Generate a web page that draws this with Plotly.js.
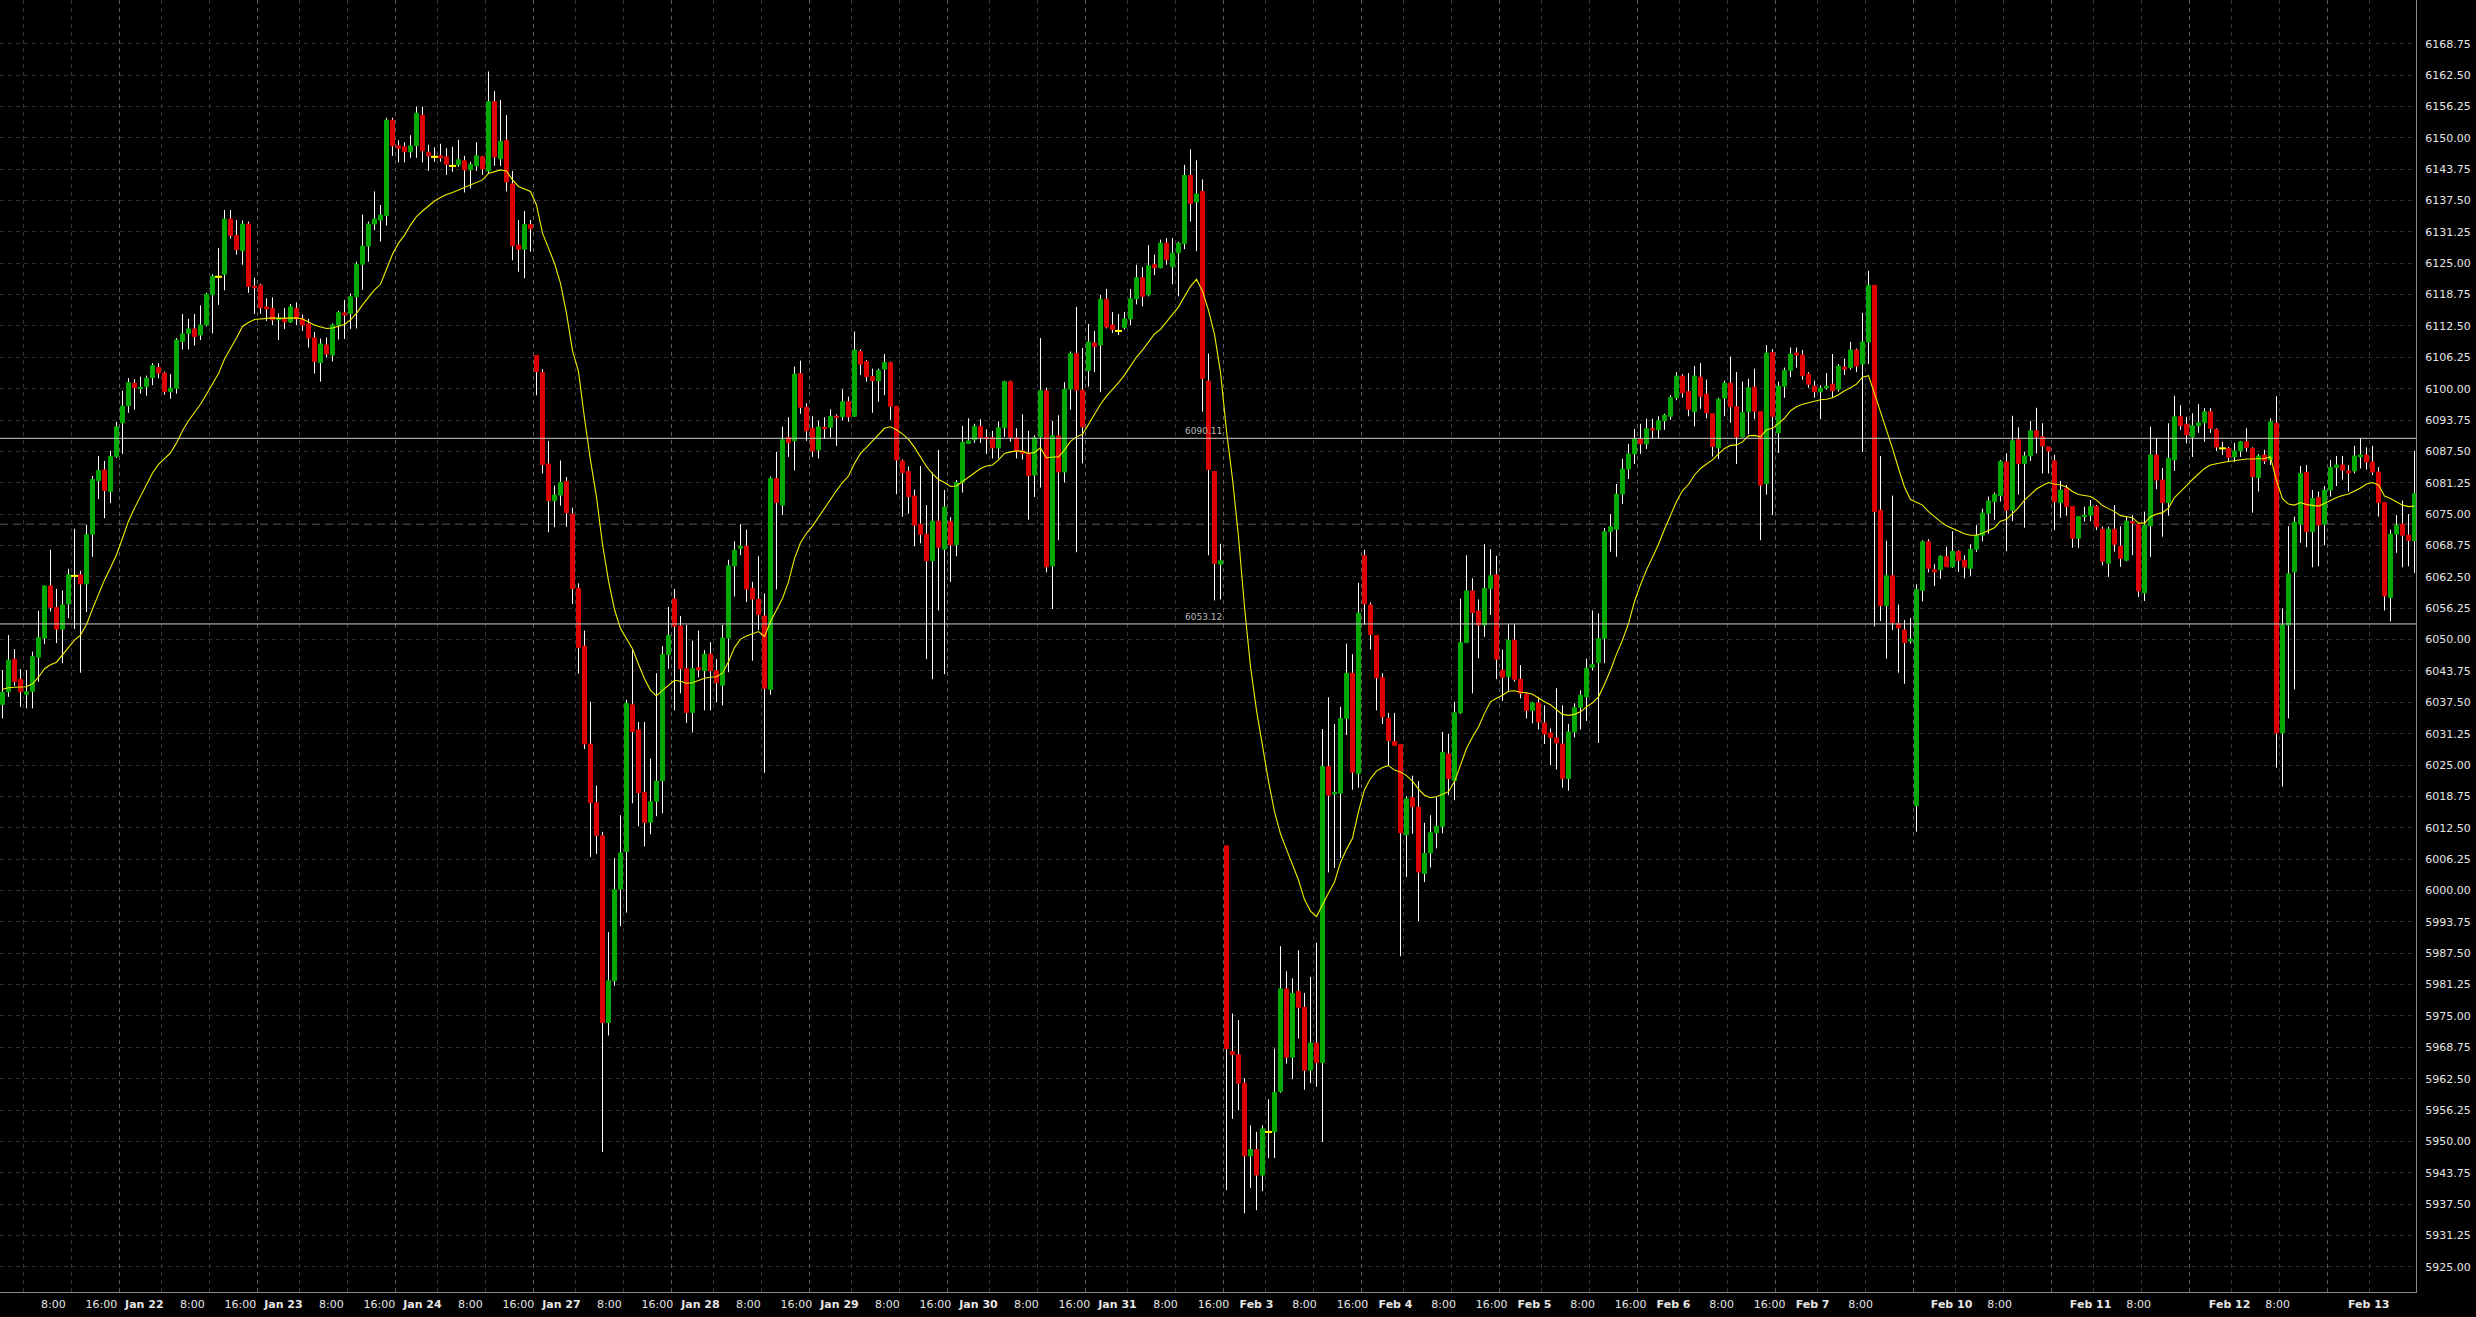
<!DOCTYPE html>
<html>
<head>
<meta charset="utf-8">
<script src="https://cdn.plot.ly/plotly-3.0.1.min.js"></script>
<style>
  html, body { margin: 0; padding: 0; background: #000; }
  #chart { width: 2476px; height: 1317px; }
</style>
</head>
<body>
<div id="chart"></div>
<script>
// ---------------- DATA (hourly candles, index 0 = Jan 21 08:00) ----------------
const open = [
6037.1,6039.6,6046.1,6042.1,6039.1,6039.7,6046.5,6050.3,6060.7,6056.4,
6052.1,6057.1,6062.7,6062.9,6061.1,6071.0,6081.7,6083.8,6079.5,6086.5,
6093.2,6096.6,6101.1,6100.0,6100.4,6102.2,6104.2,6103.1,6099.4,6100.1,
6109.4,6111.0,6111.9,6110.7,6112.7,6118.7,6122.3,6122.8,6133.8,6130.5,
6127.5,6132.8,6120.4,6120.6,6116.3,6116.0,6113.7,6113.9,6113.3,6116.0,
6113.9,6112.9,6110.1,6105.2,6108.7,6106.7,6112.7,6115.1,6115.0,6118.3,
6124.8,6128.4,6132.8,6133.6,6134.5,6153.5,6148.4,6148.2,6147.2,6148.4,
6154.5,6147.1,6146.2,6146.4,6146.2,6144.4,6144.6,6145.4,6143.6,6144.4,
6146.2,6143.4,6157.2,6145.8,6149.5,6140.8,6128.6,6127.8,6132.7,6106.6,
6103.2,6085.0,6077.7,6078.8,6081.5,6075.0,6060.2,6048.7,6029.2,6017.5,
6010.9,5973.7,5982.0,6000.3,6007.8,6037.0,6032.0,6019.5,6013.6,6017.8,
6021.9,6047.0,6058.1,6052.7,6044.2,6035.5,6044.4,6043.8,6047.1,6043.8,
6040.9,6050.3,6064.7,6068.2,6068.6,6060.2,6058.0,6054.7,6040.1,6082.1,
6076.8,6090.3,6089.6,6103.0,6096.3,6092.1,6087.8,6092.3,6092.3,6094.5,
6094.4,6097.4,6094.5,6107.4,6105.4,6102.4,6101.6,6103.9,6105.2,6096.5,
6085.6,6083.5,6078.6,6073.0,6071.0,6065.7,6073.6,6068.0,6073.5,6068.9,
6081.3,6089.1,6089.8,6092.5,6090.3,6090.2,6088.2,6092.2,6101.4,6090.2,
6087.6,6087.2,6082.8,6090.4,6099.6,6064.7,6090.6,6083.4,6099.9,6107.0,
6099.7,6103.6,6109.1,6108.7,6117.8,6112.7,6111.5,6112.2,6113.9,6117.9,
6122.1,6118.7,6124.7,6124.1,6129.0,6124.3,6127.1,6128.9,6142.5,6137.2,
6139.3,6101.5,6083.5,6065.0,6008.9,5967.9,5967.3,5961.6,5947.1,5948.4,
5943.3,5951.9,5951.9,5960.0,5980.4,5966.8,5979.9,5976.7,5964.2,5969.6,
5965.7,6024.7,6019.2,6019.4,6034.3,6043.3,6023.3,6066.7,6056.9,6050.8,
6042.4,6034.3,6029.7,6029.1,6011.1,6018.5,6016.6,6003.4,6007.5,6011.5,
6012.8,6027.2,6021.9,6035.4,6049.4,6059.7,6055.7,6052.9,6060.2,6062.9,
6043.9,6042.6,6049.9,6042.1,6039.1,6035.9,6037.4,6033.4,6031.4,6030.4,
6029.2,6022.3,6031.6,6036.5,6038.6,6044.5,6045.4,6050.2,6071.5,6072.0,
6079.0,6084.0,6087.0,6090.0,6089.0,6092.0,6091.8,6093.6,6094.5,6098.2,
6102.5,6099.4,6095.4,6102.3,6098.9,6095.0,6088.2,6098.1,6101.1,6096.4,
6090.4,6095.4,6100.3,6095.4,6081.1,6107.2,6091.2,6100.5,6103.6,6107.1,
6106.7,6102.9,6100.5,6099.4,6100.2,6100.9,6099.9,6104.3,6104.2,6107.7,
6104.9,6109.3,6120.6,6075.8,6056.8,6062.7,6053.2,6051.9,6049.7,6016.9,
6059.8,6069.5,6063.9,6063.9,6066.5,6064.5,6067.6,6065.8,6064.2,6068.0,
6070.8,6075.2,6077.5,6078.7,6085.4,6075.8,6089.8,6085.1,6086.6,6091.6,
6090.4,6088.4,6085.6,6077.3,6080.1,6076.5,6070.2,6074.5,6074.8,6076.5,
6072.0,6065.2,6072.0,6068.6,6065.8,6073.5,6072.9,6059.3,6072.7,6086.8,
6081.8,6077.3,6085.8,6094.4,6092.9,6090.4,6092.6,6093.2,6095.4,6091.9,
6088.1,6088.1,6086.4,6087.6,6089.4,6088.1,6082.3,6086.8,6085.8,6093.1,
6031.4,6052.9,6063.5,6073.0,6083.3,6071.5,6078.3,6073.0,6079.8,6084.3,
6084.8,6083.6,6083.6,6086.4,6086.8,6085.4,6083.4,6077.3,6058.4,6071.0,
6073.0,6070.8,6069.7
];
const high = [
6043.9,6050.9,6048.1,6044.1,6043.9,6047.6,6055.7,6060.7,6067.9,6060.1,
6059.8,6064.1,6072.1,6063.7,6072.9,6082.6,6086.6,6085.6,6087.6,6093.4,
6099.6,6102.1,6101.9,6102.4,6102.6,6105.1,6105.1,6103.4,6102.9,6110.1,
6114.9,6113.9,6114.9,6116.6,6119.1,6122.8,6128.0,6135.6,6135.6,6133.6,
6133.5,6133.3,6122.1,6120.9,6118.0,6118.2,6115.0,6116.1,6116.9,6117.2,
6114.8,6113.9,6111.3,6110.0,6110.2,6113.0,6115.5,6117.7,6119.0,6125.3,
6134.7,6133.3,6139.3,6136.6,6154.0,6154.0,6149.5,6149.1,6150.5,6156.2,
6156.2,6148.6,6148.1,6148.8,6147.9,6148.2,6149.6,6146.4,6145.2,6149.1,
6146.4,6163.2,6159.3,6157.5,6154.5,6143.4,6133.6,6135.4,6133.6,6106.6,
6103.9,6089.6,6080.7,6085.7,6082.4,6076.3,6061.2,6051.8,6037.6,6020.9,
6011.7,5991.7,6006.5,6015.0,6038.0,6047.9,6033.6,6033.6,6026.3,6043.3,
6048.7,6056.5,6060.1,6054.7,6052.9,6049.8,6051.8,6047.9,6049.5,6046.1,
6052.9,6065.9,6069.6,6073.0,6071.9,6061.5,6066.6,6059.2,6082.5,6087.4,
6092.4,6094.3,6104.4,6105.6,6097.1,6094.5,6093.6,6094.3,6095.9,6094.9,
6099.9,6098.4,6111.4,6107.8,6105.7,6104.0,6104.0,6106.9,6105.4,6096.5,
6085.9,6084.5,6079.9,6084.6,6076.8,6083.3,6087.8,6079.8,6074.4,6081.8,
6092.6,6094.1,6093.0,6093.9,6091.9,6091.6,6093.5,6101.6,6101.6,6092.1,
6094.9,6091.6,6090.7,6110.1,6100.2,6093.6,6094.7,6101.3,6107.4,6116.3,
6108.1,6112.9,6111.5,6118.7,6119.9,6115.3,6114.9,6115.3,6119.9,6124.7,
6124.2,6128.6,6126.7,6129.7,6130.0,6130.0,6129.3,6144.6,6147.7,6145.5,
6141.7,6107.0,6083.5,6069.1,6008.9,5975.5,5974.2,5962.6,5953.2,5951.9,
5953.2,5958.4,5968.5,5988.9,5983.9,5982.5,5988.1,5979.6,5982.8,5989.6,
6032.2,6038.5,6033.2,6036.6,6049.2,6047.1,6061.3,6067.9,6057.4,6050.8,
6043.3,6035.4,6035.4,6029.1,6018.8,6022.9,6021.8,6013.5,6015.0,6018.6,
6031.6,6031.2,6037.6,6058.2,6066.8,6062.2,6058.0,6069.0,6068.0,6066.7,
6048.0,6053.1,6053.1,6044.9,6039.3,6037.6,6038.6,6036.9,6032.3,6040.3,
6036.9,6033.2,6037.3,6039.9,6046.2,6055.8,6055.2,6072.2,6075.0,6081.0,
6086.0,6089.0,6092.0,6093.0,6094.0,6094.0,6094.5,6095.0,6098.7,6103.3,
6102.9,6103.1,6104.5,6105.1,6101.8,6095.0,6098.2,6101.6,6106.4,6103.3,
6101.4,6102.0,6104.0,6095.4,6108.7,6107.9,6101.4,6104.2,6108.2,6108.2,
6107.7,6103.3,6101.6,6100.7,6103.1,6106.9,6104.9,6106.0,6109.3,6108.0,
6115.1,6123.5,6120.6,6086.6,6069.7,6078.7,6057.0,6053.9,6054.3,6061.0,
6069.8,6070.0,6065.0,6066.8,6068.5,6071.6,6067.8,6066.8,6069.0,6072.8,
6076.1,6078.5,6079.3,6085.8,6087.1,6094.6,6092.3,6087.4,6093.6,6096.2,
6093.1,6088.4,6086.8,6081.6,6080.8,6076.5,6074.5,6076.5,6077.8,6076.8,
6072.5,6072.5,6076.8,6072.6,6074.5,6074.8,6072.9,6075.5,6092.4,6090.2,
6084.2,6093.1,6098.6,6096.7,6094.4,6095.1,6096.9,6096.1,6096.1,6092.1,
6089.4,6088.4,6089.2,6089.6,6092.1,6088.3,6087.0,6087.8,6094.1,6098.5,
6056.2,6072.6,6074.5,6084.6,6084.8,6079.8,6079.5,6080.6,6085.8,6086.6,
6086.6,6084.8,6088.6,6090.2,6088.3,6088.6,6084.4,6077.3,6071.9,6074.8,
6077.7,6075.0,6087.6
];
const low = [
6034.3,6038.6,6040.8,6036.6,6036.3,6036.3,6041.6,6049.1,6055.6,6049.3,
6045.3,6054.3,6052.1,6043.4,6055.5,6066.5,6078.0,6074.2,6077.2,6086.2,
6087.0,6095.2,6095.8,6099.0,6098.6,6100.7,6102.1,6098.8,6098.0,6099.0,
6107.8,6107.8,6108.6,6109.7,6112.4,6111.0,6116.7,6119.6,6129.9,6126.7,
6124.7,6119.1,6114.9,6114.9,6113.5,6112.7,6109.7,6111.9,6113.1,6112.7,
6111.5,6108.2,6103.0,6101.4,6106.2,6105.4,6109.8,6109.9,6111.9,6112.0,
6119.7,6125.3,6131.6,6129.3,6132.5,6146.4,6145.1,6145.1,6146.0,6146.0,
6145.1,6143.4,6145.2,6145.2,6142.6,6143.2,6144.2,6139.1,6139.9,6143.4,
6142.6,6142.9,6144.4,6144.4,6139.3,6125.6,6123.3,6122.0,6127.3,6098.7,
6083.1,6071.4,6072.4,6076.7,6072.5,6057.1,6043.2,6028.2,6006.7,6007.3,
5947.9,5971.1,5981.0,5992.9,5995.6,6017.4,6012.8,6008.8,6011.2,6014.8,
6015.4,6044.2,6035.9,6039.3,6033.4,6031.5,6042.5,6035.9,6035.9,6037.5,
6036.9,6043.5,6058.6,6066.8,6057.5,6045.8,6051.9,6023.5,6039.0,6060.0,
6074.8,6086.4,6083.7,6095.0,6089.6,6086.4,6086.1,6090.0,6090.3,6088.6,
6093.7,6093.4,6094.4,6102.7,6101.4,6095.2,6097.4,6098.7,6093.8,6079.0,
6074.5,6075.1,6068.6,6069.2,6046.1,6042.1,6055.8,6043.1,6061.5,6066.6,
6079.3,6089.0,6089.2,6089.2,6087.0,6086.1,6086.1,6090.4,6089.4,6086.1,
6085.9,6073.9,6078.4,6080.3,6063.4,6056.1,6069.8,6081.3,6095.8,6067.4,
6085.1,6100.4,6103.3,6099.3,6112.0,6111.1,6110.7,6111.8,6112.7,6116.8,
6116.4,6118.4,6122.6,6124.0,6124.7,6120.8,6118.4,6127.8,6133.3,6127.4,
6095.4,6066.8,6057.8,6058.0,5940.3,5954.5,5956.2,5935.7,5940.7,5936.3,
5940.1,5946.7,5946.7,5959.7,5965.5,5962.4,5970.5,5960.3,5961.6,5960.9,
5949.9,6003.6,6004.5,6006.5,6031.0,6020.1,6020.5,6053.0,6048.0,6035.9,
6033.2,6024.9,6028.9,5986.9,6002.7,6011.3,5993.9,6001.7,6004.6,6008.4,
6011.4,6019.0,6018.0,6035.2,6049.4,6039.3,6046.3,6050.6,6054.9,6042.1,
6037.8,6039.6,6041.6,6038.3,6034.3,6033.3,6032.1,6029.2,6025.0,6024.1,
6020.5,6019.9,6030.5,6032.1,6033.8,6043.9,6029.4,6045.3,6067.5,6066.5,
6077.0,6082.0,6085.0,6087.0,6088.0,6090.0,6090.0,6091.8,6093.8,6097.7,
6098.2,6094.5,6092.5,6096.0,6094.1,6086.5,6086.0,6094.5,6093.2,6085.0,
6090.3,6090.9,6093.9,6069.8,6078.9,6074.8,6087.2,6098.2,6102.3,6104.2,
6101.8,6100.2,6098.2,6093.9,6099.8,6098.3,6099.4,6102.7,6103.8,6103.3,
6087.4,6104.9,6052.6,6053.7,6046.2,6051.9,6043.4,6041.2,6049.2,6011.7,
6057.6,6063.4,6060.7,6062.1,6064.5,6064.3,6063.5,6062.2,6062.7,6067.5,
6069.6,6071.1,6073.8,6077.5,6067.6,6073.6,6078.9,6072.3,6085.6,6087.1,
6083.1,6083.1,6071.8,6074.3,6074.7,6068.3,6068.3,6073.5,6073.6,6071.8,
6064.8,6062.5,6067.5,6064.5,6065.6,6066.8,6058.5,6057.7,6066.5,6080.0,
6070.5,6074.7,6083.6,6091.8,6089.1,6086.4,6091.2,6089.4,6091.2,6087.6,
6086.8,6085.4,6085.4,6086.4,6087.4,6075.3,6079.5,6085.0,6084.8,6024.5,
6020.7,6034.3,6040.1,6069.3,6068.4,6064.4,6064.6,6068.8,6078.5,6080.6,
6081.9,6079.5,6083.1,6084.1,6083.9,6082.8,6074.5,6055.8,6053.6,6067.3,
6064.4,6064.6,6063.3
];
const close = [
6039.5,6045.9,6041.6,6039.6,6039.6,6046.6,6050.4,6060.7,6056.4,6052.1,
6056.9,6062.9,6062.7,6061.1,6070.9,6081.9,6083.7,6079.7,6086.5,6092.4,
6096.5,6101.2,6100.2,6100.3,6102.1,6104.6,6103.1,6099.4,6100.1,6109.7,
6110.9,6111.9,6110.4,6112.7,6118.8,6122.4,6122.3,6133.8,6130.5,6127.7,
6132.8,6120.4,6120.1,6116.1,6115.9,6113.7,6114.0,6113.3,6116.3,6113.9,
6112.7,6110.1,6105.4,6108.9,6106.9,6112.7,6115.2,6114.7,6118.3,6124.8,
6128.4,6132.8,6133.8,6134.6,6153.5,6148.4,6147.9,6147.2,6148.4,6154.9,
6147.4,6146.4,6146.2,6146.0,6144.7,6144.4,6145.6,6143.6,6144.7,6146.4,
6143.8,6157.2,6146.2,6149.3,6141.2,6128.5,6127.8,6132.7,6131.9,6103.4,
6084.9,6077.7,6078.8,6081.3,6075.3,6060.2,6048.4,6029.2,6017.5,6011.0,
5973.7,5982.0,6000.2,6007.5,6037.3,6031.7,6019.5,6013.6,6017.7,6021.8,
6047.0,6050.8,6052.7,6044.2,6035.5,6044.2,6044.0,6047.1,6043.8,6041.4,
6050.3,6064.7,6067.8,6068.6,6060.1,6058.1,6055.0,6040.3,6082.1,6077.3,
6089.8,6089.2,6102.9,6096.3,6091.6,6087.6,6092.4,6092.0,6094.5,6094.3,
6097.4,6094.4,6107.7,6104.9,6102.4,6101.6,6103.6,6105.2,6096.5,6085.8,
6083.3,6078.5,6072.8,6071.0,6065.7,6073.6,6068.4,6076.4,6068.9,6081.3,
6089.3,6089.6,6092.5,6090.3,6090.0,6088.2,6092.2,6101.4,6090.3,6087.5,
6087.1,6082.7,6090.2,6099.6,6064.5,6090.6,6083.4,6099.9,6107.0,6099.7,
6092.4,6109.3,6108.4,6117.8,6112.3,6111.8,6111.5,6113.9,6117.9,6122.1,
6118.4,6124.5,6124.1,6129.0,6125.7,6127.0,6129.0,6142.5,6136.9,6138.8,
6102.0,6083.9,6065.2,6065.7,5968.5,5967.3,5961.6,5947.1,5948.4,5943.3,
5952.5,5951.9,5959.8,5980.4,5966.8,5979.5,5976.7,5964.2,5969.6,5965.7,
6024.7,6019.0,6019.6,6034.3,6043.3,6023.6,6055.3,6057.1,6051.0,6042.4,
6034.6,6029.9,6028.9,6011.5,6018.3,6016.7,6003.7,6007.4,6011.5,6012.8,
6027.5,6022.3,6035.4,6049.4,6059.7,6055.4,6052.9,6060.2,6062.7,6046.1,
6042.5,6049.9,6042.1,6039.3,6035.9,6037.4,6033.6,6031.2,6030.5,6029.4,
6022.3,6031.6,6036.4,6038.9,6044.3,6045.0,6050.2,6071.5,6072.5,6079.0,
6084.0,6087.0,6090.0,6089.0,6092.0,6091.8,6093.6,6094.7,6098.2,6102.5,
6099.2,6095.9,6102.5,6098.5,6095.2,6088.5,6097.9,6101.1,6096.4,6090.4,
6095.2,6100.2,6095.5,6080.8,6107.1,6094.5,6100.5,6103.6,6106.9,6106.7,
6102.6,6100.9,6099.4,6100.1,6100.5,6099.6,6104.5,6103.9,6107.7,6104.5,
6109.3,6120.6,6075.5,6056.8,6062.7,6053.4,6052.3,6049.4,6050.1,6060.0,
6069.5,6064.2,6063.5,6066.6,6064.5,6067.6,6065.8,6064.5,6068.0,6070.8,
6075.2,6077.6,6078.9,6085.5,6075.8,6089.6,6085.1,6086.6,6091.6,6090.4,
6088.6,6087.6,6077.5,6079.8,6076.5,6070.2,6074.5,6074.8,6076.5,6072.5,
6065.6,6072.0,6069.0,6066.2,6073.6,6073.2,6059.7,6072.8,6086.8,6081.8,
6077.3,6086.1,6094.4,6092.6,6090.8,6092.6,6093.2,6095.4,6092.1,6088.4,
6088.1,6086.3,6087.6,6089.4,6088.3,6082.5,6086.6,6085.6,6093.4,6031.4,
6052.9,6063.1,6073.4,6083.1,6071.5,6078.1,6072.8,6079.8,6084.3,6084.8,
6083.8,6083.2,6086.6,6086.8,6085.4,6083.4,6077.3,6058.7,6071.0,6072.8,
6070.8,6069.8,6079.1
];
// moving average as drawn on the chart (yellow line)
const ma = [
6040.1,6040.4,6040.5,6040.5,6040.6,6041.2,6042.5,6044.2,6045.0,6045.5,
6046.9,6048.5,6049.9,6050.9,6053.0,6056.1,6059.0,6061.9,6064.3,6066.9,
6070.2,6073.6,6076.2,6078.6,6080.9,6083.2,6084.9,6086.1,6087.2,6089.2,
6091.6,6093.6,6095.2,6096.9,6098.9,6100.9,6103.0,6105.9,6107.9,6110.1,
6112.4,6113.2,6113.8,6113.9,6114.0,6114.1,6114.0,6114.0,6114.1,6114.1,
6113.9,6113.3,6112.7,6112.3,6112.0,6112.1,6112.5,6112.8,6113.7,6115.0,
6116.7,6118.3,6119.7,6120.8,6124.0,6126.8,6129.0,6130.6,6132.6,6134.3,
6135.4,6136.5,6137.4,6138.1,6138.7,6139.1,6139.6,6140.1,6140.6,6141.2,
6141.6,6142.9,6143.2,6143.6,6143.4,6141.6,6140.3,6139.8,6139.3,6136.6,
6131.0,6128.0,6125.0,6121.0,6115.0,6107.6,6103.4,6094.1,6085.7,6078.4,
6069.0,6061.7,6056.0,6052.2,6050.3,6048.2,6045.1,6042.2,6039.9,6038.8,
6039.9,6040.9,6041.9,6041.7,6041.3,6041.4,6041.9,6042.3,6042.5,6042.6,
6043.3,6045.6,6048.4,6050.1,6050.7,6051.2,6051.6,6050.6,6053.6,6055.9,
6058.2,6061.5,6066.2,6069.3,6071.2,6072.6,6074.4,6076.2,6077.9,6079.7,
6081.3,6082.6,6085.1,6087.1,6088.3,6089.6,6090.8,6092.1,6092.4,6091.8,
6091.0,6089.9,6088.3,6086.4,6084.5,6083.0,6081.9,6081.3,6080.5,6080.6,
6081.5,6082.3,6083.3,6084.1,6084.6,6084.8,6085.8,6087.1,6087.4,6087.6,
6087.5,6087.1,6087.3,6088.2,6086.2,6086.4,6086.4,6087.8,6089.5,6090.4,
6090.9,6093.0,6095.0,6096.9,6098.5,6099.8,6101.2,6102.7,6104.6,6106.3,
6107.7,6109.4,6110.9,6111.8,6113.2,6114.8,6116.3,6118.4,6120.4,6121.8,
6119.4,6115.6,6110.8,6103.3,6091.6,6082.0,6070.5,6056.5,6044.6,6035.9,
6028.4,6021.8,6015.7,6011.3,6008.2,6005.2,6002.1,5998.2,5995.9,5994.8,
5997.3,5999.5,6001.7,6005.6,6008.2,6010.4,6015.7,6020.1,6022.3,6023.8,
6024.5,6024.9,6024.0,6023.6,6022.9,6021.8,6020.2,6019.0,6018.5,6018.7,
6019.2,6019.7,6021.7,6025.0,6028.3,6030.6,6032.6,6035.3,6037.6,6038.3,
6038.9,6039.7,6039.8,6039.5,6039.4,6039.1,6038.3,6037.6,6037.0,6036.0,
6035.1,6034.9,6035.1,6035.6,6036.6,6037.4,6038.6,6041.1,6043.9,6047.1,
6049.9,6053.2,6057.6,6060.9,6063.9,6066.4,6069.0,6072.0,6074.9,6077.5,
6079.7,6080.9,6082.8,6084.1,6085.0,6085.8,6087.0,6088.1,6088.7,6088.8,
6089.4,6090.6,6090.7,6090.4,6091.8,6092.1,6093.1,6094.1,6095.6,6096.4,
6096.9,6097.2,6097.4,6097.8,6097.9,6098.2,6098.8,6099.6,6100.2,6100.9,
6102.3,6102.6,6099.0,6095.4,6092.1,6088.1,6084.1,6080.4,6077.9,6077.3,
6076.8,6075.5,6074.4,6073.5,6072.7,6072.2,6071.6,6071.1,6070.8,6070.8,
6071.2,6071.8,6072.3,6073.6,6074.0,6075.1,6076.3,6077.8,6079.0,6080.0,
6080.7,6081.3,6081.0,6080.8,6080.4,6079.5,6078.9,6078.7,6078.5,6077.8,
6076.7,6076.1,6075.5,6074.7,6074.5,6074.3,6073.2,6073.2,6074.5,6075.0,
6075.3,6076.2,6078.3,6079.6,6080.7,6081.9,6083.0,6084.1,6084.8,6085.1,
6085.3,6085.5,6085.7,6085.8,6086.0,6086.0,6086.0,6086.1,6086.4,6081.7,
6078.1,6077.0,6076.8,6077.3,6076.9,6076.8,6076.6,6077.1,6077.7,6078.3,
6078.7,6079.0,6079.6,6080.2,6081.0,6081.3,6080.8,6078.6,6078.1,6077.5,
6076.8,6076.5,6076.6
];
// horizontal price levels drawn on the chart
const levels = [6090.11, 6053.12];
const lastPriceLine = 6073.0;
// price-axis labels
const priceTickFirst = 5925.00, priceTickStep = 6.25, priceTickLast = 6168.75;
// time-axis labels: one row per session day, slots [date, 8:00, 16:00]
const dayNames = ['', 'Jan 22','Jan 23','Jan 24','Jan 27','Jan 28','Jan 29','Jan 30','Jan 31',
                  'Feb 3','Feb 4','Feb 5','Feb 6','Feb 7','Feb 10','Feb 11','Feb 12','Feb 13'];
const hourSlots = [
  ['8:00','16:00'],['8:00','16:00'],['8:00','16:00'],['8:00','16:00'],['8:00','16:00'],
  ['8:00','16:00'],['8:00','16:00'],['8:00','16:00'],['8:00','16:00'],['8:00','16:00'],
  ['8:00','16:00'],['8:00','16:00'],['8:00','16:00'],['8:00',''],['8:00',''],
  ['8:00',''],['8:00',''],['','']
];

// ---------------- BUILD ----------------
const N = open.length;
const x = open.map((_, i) => i);
const mid = open.map((o, i) => (o + close[i]) / 2);
const bodyHi = open.map((o, i) => Math.max(o, close[i]));
const bodyLo = open.map((o, i) => Math.min(o, close[i]));
const dojiX = [], dojiY = [];
open.forEach((o, i) => { if (o === close[i]) { dojiX.push(i); dojiY.push(o); } });

const GREEN = '#00a800', RED = '#dc0000', WICK = '#ffffff', MA = '#f0f000';

const traces = [
  { type: 'candlestick', x: x, open: mid, high: high, low: low, close: mid,
    increasing: { line: { color: WICK, width: 1 }, fillcolor: WICK },
    decreasing: { line: { color: WICK, width: 1 }, fillcolor: WICK },
    whiskerwidth: 0, hoverinfo: 'skip', showlegend: false },
  { type: 'candlestick', x: x, open: open, high: bodyHi, low: bodyLo, close: close,
    increasing: { line: { color: GREEN, width: 1 }, fillcolor: GREEN },
    decreasing: { line: { color: RED, width: 1 }, fillcolor: RED },
    whiskerwidth: 0, hoverinfo: 'skip', showlegend: false },
  { type: 'scatter', mode: 'markers', x: dojiX, y: dojiY, hoverinfo: 'skip', showlegend: false,
    marker: { symbol: 'line-ew', size: 5, color: '#ffff00', line: { color: '#ffff00', width: 2 } } },
  { type: 'scatter', mode: 'lines', x: x, y: ma, hoverinfo: 'skip', showlegend: false,
    line: { color: MA, width: 1.1 } }
];

// pixel grid: 6 px per bar, bar centres on half pixels so 1px wicks stay crisp
const PLOT_W = 2416, BAR_PX = 6, FIRST_PX = 2.5;
const xr = [-FIRST_PX / BAR_PX, (PLOT_W - FIRST_PX) / BAR_PX];

// session structure: 23 hourly bars per session, first full session starts at bar 20
const SESSION = 23, FIRST_DAY_BAR = 20;
const shapes = [];
for (let d = -1; d < dayNames.length; d++) {
  const dayLine = FIRST_DAY_BAR - 0.5 + SESSION * d;
  [[dayLine, '#5c5c5c'], [dayLine + 7, '#363636'], [dayLine + 15, '#363636']].forEach(([p, c]) => {
    if (p > xr[0] && p < xr[1] - 0.2) {
      shapes.push({ type: 'line', xref: 'x', yref: 'paper', x0: p, x1: p, y0: 0, y1: 1, layer: 'below',
                    line: { color: c, width: 1, dash: '4px,4px' } });
    }
  });
}
shapes.push({ type: 'line', xref: 'paper', yref: 'y', x0: 0, x1: 1, y0: lastPriceLine, y1: lastPriceLine,
              layer: 'below', line: { color: '#5a5a5a', width: 1, dash: '8px,5px' } });
levels.forEach(v => shapes.push({ type: 'line', xref: 'paper', yref: 'y', x0: 0, x1: 1, y0: v, y1: v,
              layer: 'above', line: { color: '#cfcfcf', width: 1 } }));

const annotations = levels.map(v => ({
  x: 203.6, y: v, xref: 'x', yref: 'y', text: v.toFixed(2), showarrow: false,
  xanchor: 'right', yanchor: 'bottom', yshift: 0,
  font: { family: 'DejaVu Sans', size: 9, color: '#b8b8b8' }
}));

// tick labels along time axis
const LABEL0 = FIRST_DAY_BAR + 3.64 - 23.17, LABEL_DAY = 23.17;
const tickvals = [], ticktext = [];
for (let d = 0; d < dayNames.length; d++) {
  const base = LABEL0 + LABEL_DAY * d;
  if (dayNames[d]) { tickvals.push(base); ticktext.push('<b>' + dayNames[d] + '</b>'); }
  hourSlots[d].forEach((t, s) => { if (t) { tickvals.push(base + 8 * (s + 1)); ticktext.push(t); } });
}
const yTicks = [];
for (let v = priceTickFirst; v <= priceTickLast + 1e-6; v += priceTickStep) yTicks.push(+v.toFixed(2));

const layout = {
  width: 2476, height: 1317,
  paper_bgcolor: '#000000', plot_bgcolor: '#000000',
  margin: { l: 0, r: 60, t: 0, b: 25 },
  showlegend: false,
  boxgap: 1 - 4 / BAR_PX, boxgroupgap: 0,
  hovermode: false,
  xaxis: {
    type: 'linear', range: xr, fixedrange: true,
    rangeslider: { visible: false },
    showgrid: false, zeroline: false,
    showline: true, linecolor: '#8a8a8a', linewidth: 1, mirror: true,
    tickmode: 'array', tickvals: tickvals, ticktext: ticktext, ticks: '',
    ticklabelstandoff: 2,
    tickfont: { family: 'DejaVu Sans', size: 11, color: '#e6e6e6' }
  },
  yaxis: {
    range: [5920.0, 6177.45], fixedrange: true, side: 'right',
    tickmode: 'array', tickvals: yTicks, tickformat: '.2f',
    showgrid: true, gridcolor: '#2e2e2e', griddash: '4px,4px', gridwidth: 1,
    zeroline: false, showline: true, linecolor: '#8a8a8a', linewidth: 1, mirror: true,
    ticks: '', ticklabelstandoff: 6,
    tickfont: { family: 'DejaVu Sans', size: 11, color: '#e6e6e6' }
  },
  shapes: shapes,
  annotations: annotations
};

Plotly.newPlot('chart', traces, layout, { staticPlot: true, displayModeBar: false });
</script>
</body>
</html>
